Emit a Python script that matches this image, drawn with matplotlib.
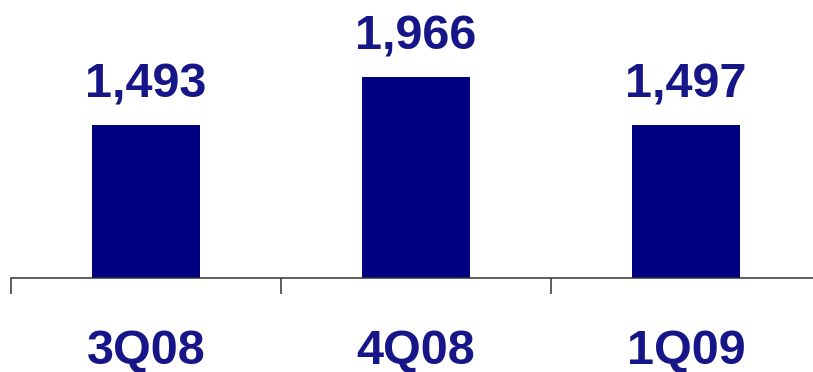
import matplotlib
matplotlib.use("Agg")
import matplotlib.pyplot as plt

quarters = ["3Q08", "4Q08", "1Q09"]
values = [1493, 1966, 1497]

bar_color = "#000080"
text_color = "#161689"

plt.rcParams["font.family"] = ["Liberation Sans", "DejaVu Sans"]

fig = plt.figure(figsize=(8.13, 3.72), dpi=100)
W, H = 813, 372
# axes spans from the left tick to just past the right edge
ax = fig.add_axes([11 / W, 94 / H, 810 / W, 278 / H])

x = range(len(quarters))
ax.bar(x, values, width=0.4, color=bar_color, zorder=2)
ax.set_xlim(-0.5, 2.5)
ax.set_ylim(0, 2719)

for i, v in enumerate(values):
    ax.annotate(f"{v:,}", xy=(i, v), xytext=(0, 20), textcoords="offset points",
                ha="center", va="baseline", fontsize=35, fontweight="bold",
                color=text_color)
    ax.annotate(quarters[i], xy=(i, 0), xycoords=("data", "axes fraction"),
                xytext=(0, -62), textcoords="offset points",
                ha="center", va="baseline", fontsize=35, fontweight="bold",
                color=text_color, annotation_clip=False)

for s in ["top", "right", "left"]:
    ax.spines[s].set_visible(False)
ax.spines["bottom"].set_color("#333333")
ax.spines["bottom"].set_linewidth(1.1)
ax.set_yticks([])
ax.set_xticks([-0.5, 0.5, 1.5])
ax.set_xticklabels([])
ax.tick_params(axis="x", direction="out", length=11.5, width=1.1, color="#333333")
ax.patch.set_visible(False)

fig.savefig("out.png", dpi=100)
